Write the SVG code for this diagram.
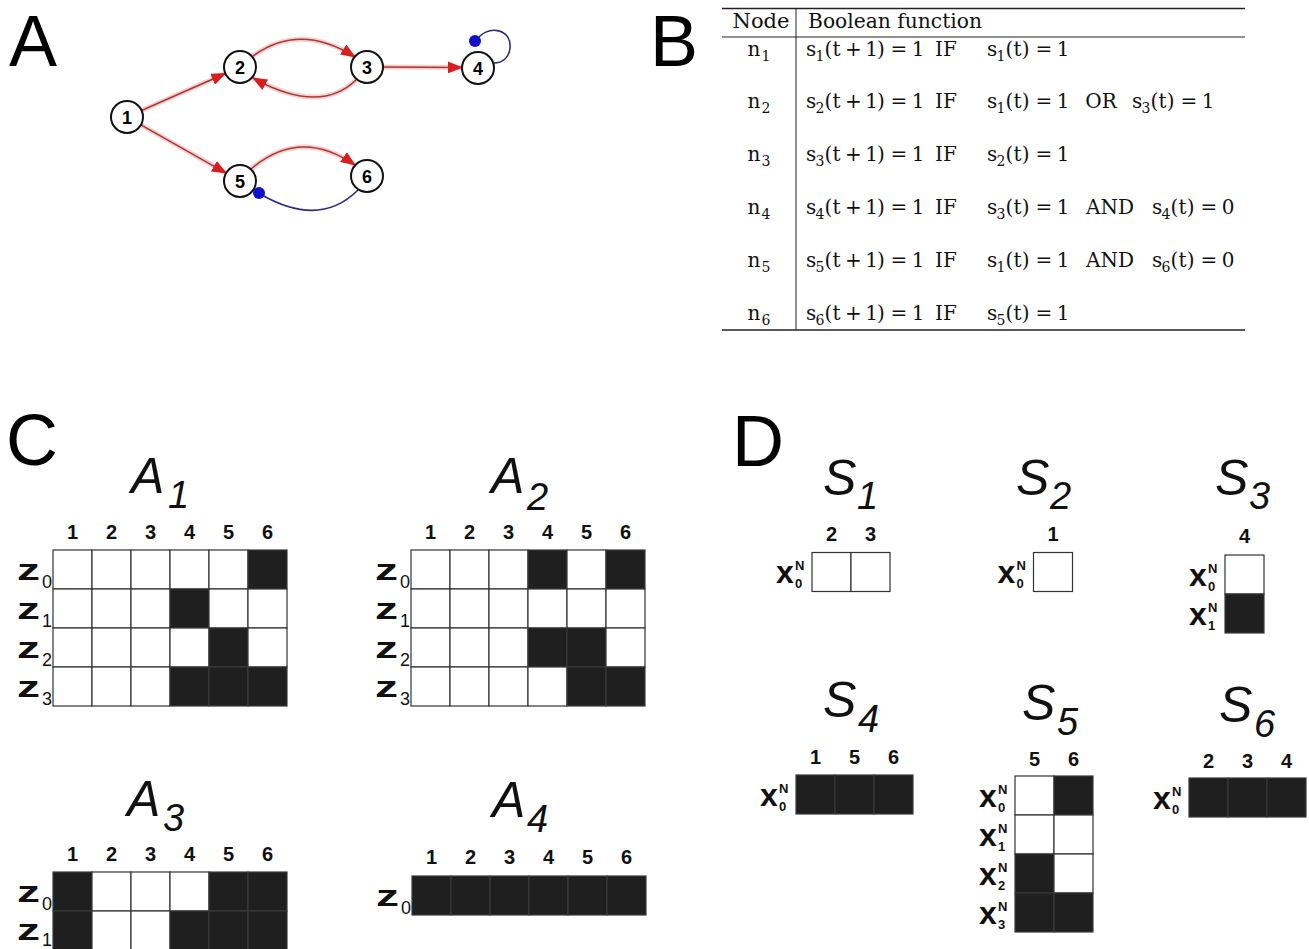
<svg xmlns="http://www.w3.org/2000/svg" xmlns:xlink="http://www.w3.org/1999/xlink" width="1309" height="949" viewBox="0 0 1309 949">
<style>
.big{font-family:"Liberation Sans",Arial,sans-serif;font-size:72px;fill:#000}
.nc{fill:#fff;stroke:#111;stroke-width:2}
.nl{font-family:"Liberation Sans",Arial,sans-serif;font-weight:bold;font-size:18px;text-anchor:middle;fill:#000}
.halo{fill:none;stroke:#f2a0a0;stroke-width:5;opacity:.5}
.ed{fill:none;stroke:#a83838;stroke-width:1.6}
.inh{fill:none;stroke:#2a2a80;stroke-width:1.6}
.dot{fill:#1010c8}
.tb{font-family:"DejaVu Serif","Liberation Serif",serif;font-size:20px;fill:#111}
.tm{font-family:"DejaVu Serif","Liberation Serif",serif;font-size:20px;fill:#111;text-anchor:middle}
.sb{font-size:14px}
.rl{stroke:#222;fill:none}
.w{fill:#fff;stroke:#333;stroke-width:1.2}
.k{fill:#1f1f1f;stroke:#3a3a3a;stroke-width:1.2}
.cl{font-family:"Liberation Sans",Arial,sans-serif;font-weight:bold;font-size:20px;text-anchor:middle;fill:#111}
.tt{font-family:"Liberation Sans",Arial,sans-serif;font-style:italic;font-size:50px;fill:#111}
.ts{font-family:"Liberation Sans",Arial,sans-serif;font-style:italic;font-size:38px;fill:#111}
.z{font-family:"Liberation Sans",Arial,sans-serif;font-weight:bold;font-size:29px;fill:#111}
.zs{font-family:"Liberation Sans",Arial,sans-serif;font-size:18px;fill:#111}
.x{font-family:"Liberation Sans",Arial,sans-serif;font-weight:bold;font-size:32px;fill:#111}
.xs{font-family:"Liberation Sans",Arial,sans-serif;font-weight:bold;font-size:13px;fill:#111}
</style>
<defs>
<marker id="arr" markerUnits="userSpaceOnUse" markerWidth="15" markerHeight="12" refX="14" refY="6" orient="auto">
<path d="M0,0 L15,6 L0,12 Z" fill="#d81e1e"/>
</marker>
<path id="e12" d="M141.6,110.5 L225.4,73.5"/>
<path id="e15" d="M140.9,124.9 L226.1,173.1"/>
<path id="e34" d="M383,67 L462,67.5"/>
<path id="e23" d="M253,56 Q300,22 355,57"/>
<path id="e32" d="M356,80 Q320,115 253,78"/>
<path id="e56" d="M251,169 Q300,127 355,165"/>
</defs>
<rect width="1309" height="949" fill="#fff"/>

<text class="big" x="9" y="66">A</text>
<text class="big" x="650" y="66">B</text>
<text class="big" x="6" y="465">C</text>
<text class="big" x="732" y="466">D</text>

<g id="connectors">
<use xlink:href="#e12" class="halo"/>
<use xlink:href="#e15" class="halo"/>
<use xlink:href="#e34" class="halo"/>
<use xlink:href="#e23" class="halo"/>
<use xlink:href="#e32" class="halo"/>
<use xlink:href="#e56" class="halo"/>
<use xlink:href="#e12" class="ed" marker-end="url(#arr)"/>
<use xlink:href="#e15" class="ed" marker-end="url(#arr)"/>
<use xlink:href="#e34" class="ed" marker-end="url(#arr)"/>
<use xlink:href="#e23" class="ed" marker-end="url(#arr)"/>
<use xlink:href="#e32" class="ed" marker-end="url(#arr)"/>
<use xlink:href="#e56" class="ed" marker-end="url(#arr)"/>
<path class="inh" d="M358,190 Q320,228 262,195"/>
<path class="inh" d="M476,41 C486,24 512,28 510,48 C509,58 502,63 494,63"/>
</g>

<g id="node1"><circle class="nc" cx="127" cy="117" r="16"/><text class="nl" x="127" y="123.5">1</text></g>
<g id="node2"><circle class="nc" cx="240" cy="67" r="16"/><text class="nl" x="240" y="73.5">2</text></g>
<g id="node3"><circle class="nc" cx="367" cy="67" r="16"/><text class="nl" x="367" y="73.5">3</text></g>
<g id="node4"><circle class="nc" cx="478" cy="68" r="16"/><text class="nl" x="478" y="74.5">4</text></g>
<g id="node5"><circle class="nc" cx="240" cy="181" r="16"/><text class="nl" x="240" y="187.5">5</text></g>
<g id="node6"><circle class="nc" cx="367" cy="176" r="16"/><text class="nl" x="367" y="182.5">6</text></g>
<g id="inhibition-ends">
<circle class="dot" cx="259" cy="193" r="6"/>
<circle class="dot" cx="475" cy="41" r="6"/>
</g>

<g id="table">
<line class="rl" x1="722" y1="8.5" x2="1245" y2="8.5" stroke-width="1.5"/>
<line class="rl" x1="722" y1="37" x2="1245" y2="37" stroke-width="1"/>
<line class="rl" x1="722" y1="330" x2="1245" y2="330" stroke-width="1.5"/>
<line class="rl" x1="796" y1="8.5" x2="796" y2="330" stroke-width="1"/>
<text class="tm" x="761" y="28" textLength="57" lengthAdjust="spacingAndGlyphs">Node</text>
<text class="tb" x="808" y="28" textLength="174" lengthAdjust="spacingAndGlyphs">Boolean function</text>

<g id="row-n1">
<text class="tm" y="56"><tspan x="754">n</tspan><tspan class="sb" x="766" dy="4.5">1</tspan></text>
<text class="tm" y="56"><tspan x="811.2">s</tspan><tspan class="sb" x="820" dy="4.5">1</tspan><tspan dy="-4.5" x="828.3 836.5 853.5 871.6 880.9 899 918.2">(t+1)=1</tspan></text>
<text class="tm" x="946" y="56">IF</text>
<text class="tm" y="56"><tspan x="992.2">s</tspan><tspan class="sb" x="1001" dy="4.5">1</tspan><tspan dy="-4.5" x="1009.3 1017.5 1025.7 1043.8 1063">(t)=1</tspan></text>
</g>
<g id="row-n2">
<text class="tm" y="108"><tspan x="754">n</tspan><tspan class="sb" x="766" dy="4.5">2</tspan></text>
<text class="tm" y="108"><tspan x="811.2">s</tspan><tspan class="sb" x="820" dy="4.5">2</tspan><tspan dy="-4.5" x="828.3 836.5 853.5 871.6 880.9 899 918.2">(t+1)=1</tspan></text>
<text class="tm" x="946" y="108">IF</text>
<text class="tm" y="108"><tspan x="992.2">s</tspan><tspan class="sb" x="1001" dy="4.5">1</tspan><tspan dy="-4.5" x="1009.3 1017.5 1025.7 1043.8 1063">(t)=1</tspan></text>
<text class="tm" x="1101" y="108">OR</text>
<text class="tm" y="108"><tspan x="1137.2">s</tspan><tspan class="sb" x="1146" dy="4.5">3</tspan><tspan dy="-4.5" x="1154.3 1162.5 1170.7 1188.8 1208">(t)=1</tspan></text>
</g>
<g id="row-n3">
<text class="tm" y="161"><tspan x="754">n</tspan><tspan class="sb" x="766" dy="4.5">3</tspan></text>
<text class="tm" y="161"><tspan x="811.2">s</tspan><tspan class="sb" x="820" dy="4.5">3</tspan><tspan dy="-4.5" x="828.3 836.5 853.5 871.6 880.9 899 918.2">(t+1)=1</tspan></text>
<text class="tm" x="946" y="161">IF</text>
<text class="tm" y="161"><tspan x="992.2">s</tspan><tspan class="sb" x="1001" dy="4.5">2</tspan><tspan dy="-4.5" x="1009.3 1017.5 1025.7 1043.8 1063">(t)=1</tspan></text>
</g>
<g id="row-n4">
<text class="tm" y="214"><tspan x="754">n</tspan><tspan class="sb" x="766" dy="4.5">4</tspan></text>
<text class="tm" y="214"><tspan x="811.2">s</tspan><tspan class="sb" x="820" dy="4.5">4</tspan><tspan dy="-4.5" x="828.3 836.5 853.5 871.6 880.9 899 918.2">(t+1)=1</tspan></text>
<text class="tm" x="946" y="214">IF</text>
<text class="tm" y="214"><tspan x="992.2">s</tspan><tspan class="sb" x="1001" dy="4.5">3</tspan><tspan dy="-4.5" x="1009.3 1017.5 1025.7 1043.8 1063">(t)=1</tspan></text>
<text class="tm" x="1110" y="214">AND</text>
<text class="tm" y="214"><tspan x="1157.2">s</tspan><tspan class="sb" x="1166" dy="4.5">4</tspan><tspan dy="-4.5" x="1174.3 1182.5 1190.7 1208.8 1228">(t)=0</tspan></text>
</g>
<g id="row-n5">
<text class="tm" y="267"><tspan x="754">n</tspan><tspan class="sb" x="766" dy="4.5">5</tspan></text>
<text class="tm" y="267"><tspan x="811.2">s</tspan><tspan class="sb" x="820" dy="4.5">5</tspan><tspan dy="-4.5" x="828.3 836.5 853.5 871.6 880.9 899 918.2">(t+1)=1</tspan></text>
<text class="tm" x="946" y="267">IF</text>
<text class="tm" y="267"><tspan x="992.2">s</tspan><tspan class="sb" x="1001" dy="4.5">1</tspan><tspan dy="-4.5" x="1009.3 1017.5 1025.7 1043.8 1063">(t)=1</tspan></text>
<text class="tm" x="1110" y="267">AND</text>
<text class="tm" y="267"><tspan x="1157.2">s</tspan><tspan class="sb" x="1166" dy="4.5">6</tspan><tspan dy="-4.5" x="1174.3 1182.5 1190.7 1208.8 1228">(t)=0</tspan></text>
</g>
<g id="row-n6">
<text class="tm" y="320"><tspan x="754">n</tspan><tspan class="sb" x="766" dy="4.5">6</tspan></text>
<text class="tm" y="320"><tspan x="811.2">s</tspan><tspan class="sb" x="820" dy="4.5">6</tspan><tspan dy="-4.5" x="828.3 836.5 853.5 871.6 880.9 899 918.2">(t+1)=1</tspan></text>
<text class="tm" x="946" y="320">IF</text>
<text class="tm" y="320"><tspan x="992.2">s</tspan><tspan class="sb" x="1001" dy="4.5">5</tspan><tspan dy="-4.5" x="1009.3 1017.5 1025.7 1043.8 1063">(t)=1</tspan></text>
</g>
</g>

<g id="A1">
<text class="tt" x="131" y="493">A</text><text class="ts" x="168" y="508">1</text>
<text class="cl" y="539"><tspan x="72.5">1</tspan><tspan x="111.5">2</tspan><tspan x="150.5">3</tspan><tspan x="189.5">4</tspan><tspan x="228.5">5</tspan><tspan x="267.5">6</tspan></text>
<text class="z" x="17" y="580" textLength="23" lengthAdjust="spacingAndGlyphs">z</text><text class="zs" x="42" y="588">0</text>
<text class="z" x="17" y="619" textLength="23" lengthAdjust="spacingAndGlyphs">z</text><text class="zs" x="42" y="627">1</text>
<text class="z" x="17" y="658" textLength="23" lengthAdjust="spacingAndGlyphs">z</text><text class="zs" x="42" y="666">2</text>
<text class="z" x="17" y="697" textLength="23" lengthAdjust="spacingAndGlyphs">z</text><text class="zs" x="42" y="705">3</text>
<rect class="w" x="53" y="550" width="39" height="39"/><rect class="w" x="92" y="550" width="39" height="39"/><rect class="w" x="131" y="550" width="39" height="39"/><rect class="w" x="170" y="550" width="39" height="39"/><rect class="w" x="209" y="550" width="39" height="39"/><rect class="k" x="248" y="550" width="39" height="39"/>
<rect class="w" x="53" y="589" width="39" height="39"/><rect class="w" x="92" y="589" width="39" height="39"/><rect class="w" x="131" y="589" width="39" height="39"/><rect class="k" x="170" y="589" width="39" height="39"/><rect class="w" x="209" y="589" width="39" height="39"/><rect class="w" x="248" y="589" width="39" height="39"/>
<rect class="w" x="53" y="628" width="39" height="39"/><rect class="w" x="92" y="628" width="39" height="39"/><rect class="w" x="131" y="628" width="39" height="39"/><rect class="w" x="170" y="628" width="39" height="39"/><rect class="k" x="209" y="628" width="39" height="39"/><rect class="w" x="248" y="628" width="39" height="39"/>
<rect class="w" x="53" y="667" width="39" height="39"/><rect class="w" x="92" y="667" width="39" height="39"/><rect class="w" x="131" y="667" width="39" height="39"/><rect class="k" x="170" y="667" width="39" height="39"/><rect class="k" x="209" y="667" width="39" height="39"/><rect class="k" x="248" y="667" width="39" height="39"/>
</g>

<g id="A2">
<text class="tt" x="491" y="493">A</text><text class="ts" x="527" y="510">2</text>
<text class="cl" y="539"><tspan x="430.5">1</tspan><tspan x="469.5">2</tspan><tspan x="508.5">3</tspan><tspan x="547.5">4</tspan><tspan x="586.5">5</tspan><tspan x="625.5">6</tspan></text>
<text class="z" x="375" y="580" textLength="23" lengthAdjust="spacingAndGlyphs">z</text><text class="zs" x="400" y="588">0</text>
<text class="z" x="375" y="619" textLength="23" lengthAdjust="spacingAndGlyphs">z</text><text class="zs" x="400" y="627">1</text>
<text class="z" x="375" y="658" textLength="23" lengthAdjust="spacingAndGlyphs">z</text><text class="zs" x="400" y="666">2</text>
<text class="z" x="375" y="697" textLength="23" lengthAdjust="spacingAndGlyphs">z</text><text class="zs" x="400" y="705">3</text>
<rect class="w" x="411" y="550" width="39" height="39"/><rect class="w" x="450" y="550" width="39" height="39"/><rect class="w" x="489" y="550" width="39" height="39"/><rect class="k" x="528" y="550" width="39" height="39"/><rect class="w" x="567" y="550" width="39" height="39"/><rect class="k" x="606" y="550" width="39" height="39"/>
<rect class="w" x="411" y="589" width="39" height="39"/><rect class="w" x="450" y="589" width="39" height="39"/><rect class="w" x="489" y="589" width="39" height="39"/><rect class="w" x="528" y="589" width="39" height="39"/><rect class="w" x="567" y="589" width="39" height="39"/><rect class="w" x="606" y="589" width="39" height="39"/>
<rect class="w" x="411" y="628" width="39" height="39"/><rect class="w" x="450" y="628" width="39" height="39"/><rect class="w" x="489" y="628" width="39" height="39"/><rect class="k" x="528" y="628" width="39" height="39"/><rect class="k" x="567" y="628" width="39" height="39"/><rect class="w" x="606" y="628" width="39" height="39"/>
<rect class="w" x="411" y="667" width="39" height="39"/><rect class="w" x="450" y="667" width="39" height="39"/><rect class="w" x="489" y="667" width="39" height="39"/><rect class="w" x="528" y="667" width="39" height="39"/><rect class="k" x="567" y="667" width="39" height="39"/><rect class="k" x="606" y="667" width="39" height="39"/>
</g>

<g id="A3">
<text class="tt" x="127" y="816">A</text><text class="ts" x="163" y="831">3</text>
<text class="cl" y="861"><tspan x="72.5">1</tspan><tspan x="111.5">2</tspan><tspan x="150.5">3</tspan><tspan x="189.5">4</tspan><tspan x="228.5">5</tspan><tspan x="267.5">6</tspan></text>
<text class="z" x="17" y="902" textLength="23" lengthAdjust="spacingAndGlyphs">z</text><text class="zs" x="42" y="910">0</text>
<text class="z" x="17" y="940" textLength="23" lengthAdjust="spacingAndGlyphs">z</text><text class="zs" x="42" y="946">1</text>
<rect class="k" x="53" y="872" width="39" height="39"/><rect class="w" x="92" y="872" width="39" height="39"/><rect class="w" x="131" y="872" width="39" height="39"/><rect class="w" x="170" y="872" width="39" height="39"/><rect class="k" x="209" y="872" width="39" height="39"/><rect class="k" x="248" y="872" width="39" height="39"/>
<rect class="k" x="53" y="911" width="39" height="39"/><rect class="w" x="92" y="911" width="39" height="39"/><rect class="w" x="131" y="911" width="39" height="39"/><rect class="k" x="170" y="911" width="39" height="39"/><rect class="k" x="209" y="911" width="39" height="39"/><rect class="k" x="248" y="911" width="39" height="39"/>
</g>

<g id="A4">
<text class="tt" x="492" y="817">A</text><text class="ts" x="527" y="832">4</text>
<text class="cl" y="864"><tspan x="431.5">1</tspan><tspan x="470.5">2</tspan><tspan x="509.5">3</tspan><tspan x="548.5">4</tspan><tspan x="587.5">5</tspan><tspan x="626.5">6</tspan></text>
<text class="z" x="376" y="906" textLength="23" lengthAdjust="spacingAndGlyphs">z</text><text class="zs" x="401" y="914">0</text>
<rect class="k" x="412" y="876" width="39" height="39"/><rect class="k" x="451" y="876" width="39" height="39"/><rect class="k" x="490" y="876" width="39" height="39"/><rect class="k" x="529" y="876" width="39" height="39"/><rect class="k" x="568" y="876" width="39" height="39"/><rect class="k" x="607" y="876" width="39" height="39"/>
</g>

<g id="S1">
<text class="tt" x="823" y="495">S</text><text class="ts" x="857" y="509">1</text>
<text class="cl" y="541"><tspan x="831.5">2</tspan><tspan x="870.5">3</tspan></text>
<text class="x" x="776" y="583">x</text><text class="xs" x="795" y="570">N</text><text class="xs" x="795" y="588">0</text>
<rect class="w" x="812" y="552.5" width="39" height="39"/><rect class="w" x="851" y="552.5" width="39" height="39"/>
</g>
<g id="S2">
<text class="tt" x="1016" y="495">S</text><text class="ts" x="1050" y="509">2</text>
<text class="cl" x="1053" y="541">1</text>
<text class="x" x="997.5" y="583">x</text><text class="xs" x="1016.5" y="570">N</text><text class="xs" x="1016.5" y="588">0</text>
<rect class="w" x="1033.5" y="552.5" width="39" height="39"/>
</g>
<g id="S3">
<text class="tt" x="1215" y="495">S</text><text class="ts" x="1249" y="509">3</text>
<text class="cl" x="1244.5" y="543">4</text>
<text class="x" x="1189" y="585.5">x</text><text class="xs" x="1208" y="572.5">N</text><text class="xs" x="1208" y="590.5">0</text>
<text class="x" x="1189" y="624.5">x</text><text class="xs" x="1208" y="611.5">N</text><text class="xs" x="1208" y="629.5">1</text>
<rect class="w" x="1225" y="555" width="39" height="39"/><rect class="k" x="1225" y="594" width="39" height="39"/>
</g>
<g id="S4">
<text class="tt" x="823" y="717">S</text><text class="ts" x="858" y="732">4</text>
<text class="cl" y="764"><tspan x="815.5">1</tspan><tspan x="854.5">5</tspan><tspan x="893.5">6</tspan></text>
<text class="x" x="760" y="805.5">x</text><text class="xs" x="779" y="792.5">N</text><text class="xs" x="779" y="810.5">0</text>
<rect class="k" x="796" y="775" width="39" height="39"/><rect class="k" x="835" y="775" width="39" height="39"/><rect class="k" x="874" y="775" width="39" height="39"/>
</g>
<g id="S5">
<text class="tt" x="1022" y="720">S</text><text class="ts" x="1057" y="735">5</text>
<text class="cl" y="766"><tspan x="1034.5">5</tspan><tspan x="1073.5">6</tspan></text>
<text class="x" x="979" y="806.5">x</text><text class="xs" x="998" y="793.5">N</text><text class="xs" x="998" y="811.5">0</text>
<text class="x" x="979" y="845.5">x</text><text class="xs" x="998" y="832.5">N</text><text class="xs" x="998" y="850.5">1</text>
<text class="x" x="979" y="884.5">x</text><text class="xs" x="998" y="871.5">N</text><text class="xs" x="998" y="889.5">2</text>
<text class="x" x="979" y="923.5">x</text><text class="xs" x="998" y="910.5">N</text><text class="xs" x="998" y="928.5">3</text>
<rect class="w" x="1015" y="776" width="39" height="39"/><rect class="k" x="1054" y="776" width="39" height="39"/>
<rect class="w" x="1015" y="815" width="39" height="39"/><rect class="w" x="1054" y="815" width="39" height="39"/>
<rect class="k" x="1015" y="854" width="39" height="39"/><rect class="w" x="1054" y="854" width="39" height="39"/>
<rect class="k" x="1015" y="893" width="39" height="39"/><rect class="k" x="1054" y="893" width="39" height="39"/>
</g>
<g id="S6">
<text class="tt" x="1219" y="722">S</text><text class="ts" x="1254" y="737">6</text>
<text class="cl" y="768"><tspan x="1208.5">2</tspan><tspan x="1247.5">3</tspan><tspan x="1286.5">4</tspan></text>
<text class="x" x="1153" y="808.5">x</text><text class="xs" x="1172" y="795.5">N</text><text class="xs" x="1172" y="813.5">0</text>
<rect class="k" x="1189" y="778" width="39" height="39"/><rect class="k" x="1228" y="778" width="39" height="39"/><rect class="k" x="1267" y="778" width="39" height="39"/>
</g>
</svg>
